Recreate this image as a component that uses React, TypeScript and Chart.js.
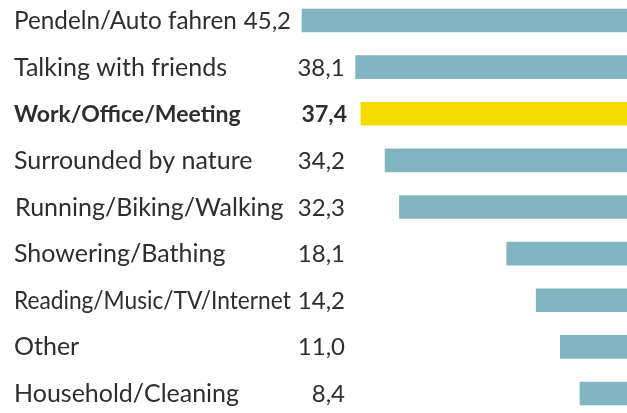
import { useEffect, useRef } from "react";
import { Chart, registerables } from "chart.js";

Chart.register(...registerables);

const categories = [
  "Pendeln/Auto fahren",
  "Talking with friends",
  "Work/Office/Meeting",
  "Surrounded by nature",
  "Running/Biking/Walking",
  "Showering/Bathing",
  "Reading/Music/TV/Internet",
  "Other",
  "Household/Cleaning",
];
const values = [45.2, 38.1, 37.4, 34.2, 32.3, 18.1, 14.2, 11.0, 8.4];
const highlighted = "Work/Office/Meeting";

const BAR_COLOR = "#80b5c1";
const HIGHLIGHT_COLOR = "#f5dc00";
const TEXT_COLOR = "#2e2e2e";
const FONT = "Lato, sans-serif";

const fmt = (v: number) => v.toFixed(1).replace(".", ",");

const labelPlugin = {
  id: "rowLabels",
  afterDatasetsDraw(chart: any) {
    const ctx = chart.ctx;
    const meta = chart.getDatasetMeta(0);
    ctx.save();
    ctx.fillStyle = TEXT_COLOR;
    ctx.textBaseline = "alphabetic";
    meta.data.forEach((bar: any, i: number) => {
      const bold = categories[i] === highlighted;
      const y = bar.y + 8.5;
      // value, right-aligned in a column, pushed left when the bar reaches it
      ctx.font = bold ? `bold 23px ${FONT}` : `24px ${FONT}`;
      ctx.textAlign = "right";
      const vx = Math.min(bold ? 347 : 345, bar.x - 11);
      const txt = fmt(values[i]);
      ctx.fillText(txt, vx, y);
      const vLeft = vx - ctx.measureText(txt).width;
      // category label
      ctx.font = bold ? `bold 23px ${FONT}` : `25px ${FONT}`;
      ctx.textAlign = "left";
      const x0 = i === 4 ? 15 : 14;
      ctx.fillText(categories[i], x0, y, vLeft - 7 - x0);
    });
    ctx.restore();
  },
};

export default function App() {
  const ref = useRef<HTMLCanvasElement>(null);
  useEffect(() => {
    document.body.style.margin = "0";
    if (!ref.current) return;
    const chart = new Chart(ref.current, {
      type: "bar",
      data: {
        labels: categories,
        datasets: [
          {
            data: values,
            backgroundColor: categories.map((c) =>
              c === highlighted ? HIGHLIGHT_COLOR : BAR_COLOR
            ),
            barThickness: 23,
            borderWidth: 0,
            clip: false,
          },
        ],
      },
      options: {
        indexAxis: "y",
        animation: false,
        responsive: false,
        events: [],
        layout: { padding: { left: 302, right: 1, top: 20.5, bottom: 19.5 } },
        plugins: { legend: { display: false }, tooltip: { enabled: false } },
        scales: {
          x: { display: false, reverse: true, min: 2.31, max: 45.2 },
          y: { display: false, offset: false, grid: { display: false } },
        },
      },
      plugins: [labelPlugin],
    });
    return () => chart.destroy();
  }, []);
  return <canvas ref={ref} width={627} height={413} style={{ display: "block" }} />;
}
